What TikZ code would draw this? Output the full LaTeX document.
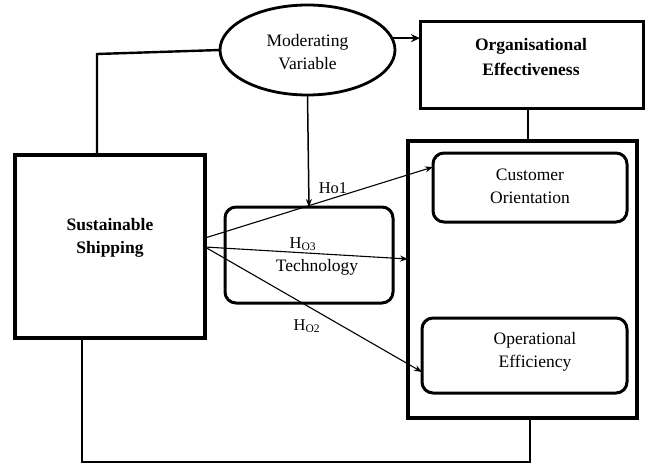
\documentclass[tikz,border=0pt]{standalone}
\usepackage{fontspec}
\setmainfont{Liberation Serif}
\usetikzlibrary{arrows.meta,shapes.geometric}
\begin{document}
\begin{tikzpicture}[x=1pt,y=-1pt,
  every node/.style={inner sep=0pt,outer sep=0pt,font=\fontsize{17.5}{23}\selectfont,align=center},
  boxa/.style={draw,line width=3.4pt,rectangle},
  boxb/.style={draw,line width=3pt,rectangle},
  rbox/.style={draw,line width=3pt,rectangle,rounded corners=11pt},
  conn/.style={line width=2.4pt},
  thin/.style={line width=1.1pt,-{Stealth[length=8pt,width=6pt]}},
  lbl/.style={font=\fontsize{16.5}{19}\selectfont}
]
\useasboundingbox (0,0) rectangle (645,466);
\node[boxa,minimum width=190pt,minimum height=183pt] (sust) at (110,246.5) {};
\node[font=\bfseries\fontsize{17.5}{23}\selectfont] (susttxt) at (110,237.5) {Sustainable\\Shipping};
\node[draw,ellipse,line width=2.8pt,minimum width=175pt,minimum height=90pt] (moder) at (307.5,50) {};
\node (modertxt) at (307.5,52) {Moderating\\Variable};
\node[boxb,minimum width=223pt,minimum height=87pt] (org) at (531.5,64.5) {};
\node[font=\bfseries\fontsize{17.5}{25}\selectfont] (orgtxt) at (531,57.5) {Organisational\\Effectiveness};
\node[draw,line width=4pt,minimum width=229pt,minimum height=277pt] (big) at (522.5,279) {};
\node[rbox,minimum width=194pt,minimum height=69pt] (cust) at (530,187.5) {};
\node (custtxt) at (530,186) {Customer\\Orientation};
\node[rbox,minimum width=205pt,minimum height=75pt] (oper) at (524.5,355.5) {};
\node (opertxt) at (535,351.5) {Operational\\Efficiency};
\node[rbox,minimum width=168pt,minimum height=96pt] (tech) at (309,255) {};
\node (techtxt) at (317,267) {Technology};
\node[lbl] (h1) at (333,188) {Ho1};
\node[lbl] (h3) at (303,244) {H\textsubscript{O3}};
\node[lbl] (h2) at (307,326) {H\textsubscript{O2}};
\coordinate (c1) at (97,54);
\coordinate (c2) at (82,462);
\coordinate (c3) at (530,462);
% connectors
\draw[conn] (sust.north -| c1) -- (c1) -- (moder.west);
\draw[conn,-{Stealth[length=9pt,width=8pt]}] (moder.8) -- (org.west |- moder.8);
\draw[conn] (org.south -| 528,0) -- (big.north -| 528,0);
\draw[line width=1.5pt,-{Stealth[length=8pt,width=6pt]}] (moder.south) -- (tech.north);
\draw[thin] (sust.east |- 0,238) -- (cust.west |- 0,167);
\draw[thin] (sust.east |- 0,247) -- (big.west |- 0,259);
\draw[thin] (sust.east |- 0,247) -- (oper.west |- 0,372);
\draw[conn] (sust.south -| c2) -- (c2) -- (c3) -- (big.south -| c3);
\end{tikzpicture}
\end{document}
